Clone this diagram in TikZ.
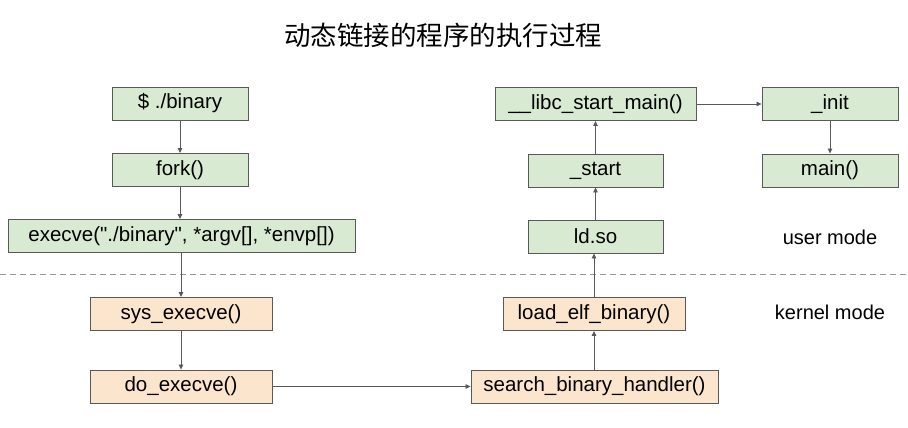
\documentclass[tikz,border=0pt]{standalone}
\usepackage{fontspec}
\setmainfont{Liberation Sans}[Ligatures=TeXOff]
\newfontfamily\cjk{Noto Sans CJK SC}
\usetikzlibrary{arrows.meta}
\definecolor{ugreen}{HTML}{D9EAD3}
\definecolor{korange}{HTML}{FCE5CD}
\definecolor{edgegray}{HTML}{595959}
\definecolor{dashgray}{HTML}{999999}
\tikzset{
  box/.style={draw=edgegray, line width=0.9pt, inner sep=0pt, minimum height=33pt, font=\fontsize{20.5}{24}\selectfont},
  ubox/.style={box, fill=ugreen},
  kbox/.style={box, fill=korange},
  conn/.style={draw=edgegray, line width=0.8pt, -{Triangle[length=5pt,width=4.5pt]}},
  lbl/.style={font=\fontsize{20}{24}\selectfont, inner sep=0pt}
}
\begin{document}
\begin{tikzpicture}[x=1pt,y=-1pt]
\useasboundingbox[fill=white] (0,0) rectangle (908,428);
\node[font=\cjk\fontsize{26.5}{30}\selectfont, inner sep=0pt] (title) at (443,35) {动态链接的程序的执行过程};
\draw[dashgray, line width=1pt, dash pattern=on 6pt off 4pt] (0,274) -- (908,274);
\node[ubox, minimum width=136pt] (bin) at (180,103.5) {\$ ./binary};
\node[ubox, minimum width=136pt] (fork) at (180,170) {fork()};
\node[ubox, minimum width=347pt] (exec) at (181.5,236) {execve("./binary", *argv[], *envp[])};
\node[kbox, minimum width=182pt] (sys) at (181,314) {sys\_execve()};
\node[kbox, minimum width=182pt] (do) at (181,386.5) {do\_execve()};
\node[kbox, minimum width=247pt] (search) at (594.5,386.5) {search\_binary\_handler()};
\node[kbox, minimum width=182pt] (load) at (594,314) {load\_elf\_binary()};
\node[ubox, minimum width=135pt] (ld) at (595.5,236.5) {ld.so};
\node[ubox, minimum width=135pt] (start) at (595.5,170.5) {\_start};
\node[ubox, minimum width=201pt] (libc) at (595.5,104) {\_\_libc\_start\_main()};
\node[ubox, minimum width=136pt] (init) at (830,104) {\_init};
\node[ubox, minimum width=136pt] (main) at (830,170.5) {main()};
\node[lbl] (user) at (830,237) {user mode};
\node[lbl] (kernel) at (830,312) {kernel mode};
\draw[conn] (bin) -- (fork);
\draw[conn] (fork) -- (fork |- exec.north);
\draw[conn] (exec.south -| sys) -- (sys);
\draw[conn] (sys) -- (do);
\draw[conn] (do) -- (search);
\draw[conn] (search.north -| load) -- (load);
\draw[conn] (load) -- (load |- ld.south);
\draw[conn] (ld) -- (start);
\draw[conn] (start) -- (libc);
\draw[conn] (libc) -- (init);
\draw[conn] (init) -- (main);
\end{tikzpicture}
\end{document}
